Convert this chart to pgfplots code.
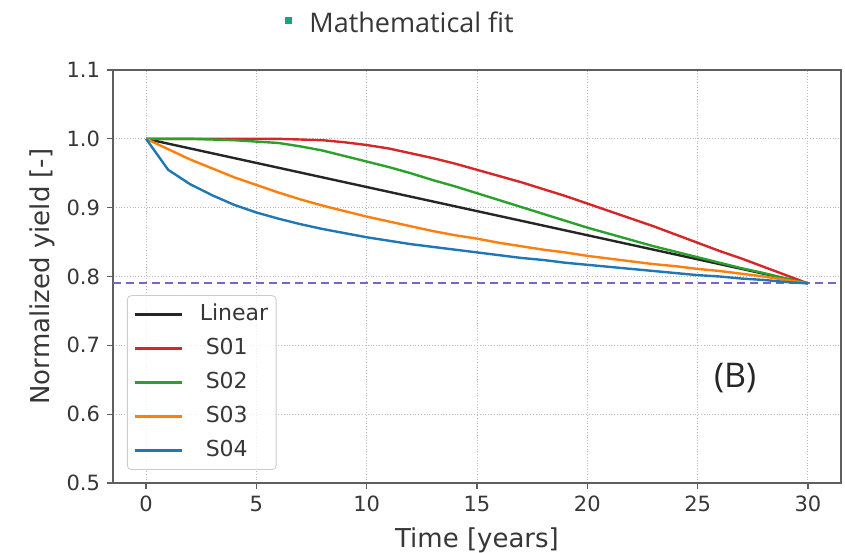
\documentclass[border=0pt]{standalone}
\usepackage{pgfplots}
\pgfplotsset{compat=1.18}
\usepackage{fontspec}
\setmainfont{DejaVu Sans}
\newfontfamily\opensans{Open Sans}

\definecolor{tabred}{RGB}{214,39,40}
\definecolor{tabgreen}{RGB}{44,160,44}
\definecolor{taborange}{RGB}{255,127,14}
\definecolor{tabblue}{RGB}{31,119,180}
\definecolor{limitpurple}{RGB}{125,100,205}
\definecolor{textgray}{RGB}{55,55,55}
\definecolor{framegray}{RGB}{95,95,95}
\definecolor{fitteal}{RGB}{26,160,130}

\begin{document}
\begin{tikzpicture}
  \begin{axis}[
      width=364pt, height=206.5pt, scale only axis,
      xmin=-1.5, xmax=31.5,
      ymin=0.5, ymax=1.1,
      xtick={0,5,10,15,20,25,30},
      ytick={0.5,0.6,0.7,0.8,0.9,1.0,1.1},
      yticklabel style={/pgf/number format/.cd, fixed, fixed zerofill, precision=1},
      /pgf/number format/assume math mode=true,
      xtick pos=left, ytick pos=left,
      tick align=outside,
      major tick length=3pt,
      tick style={draw=framegray, line width=0.6pt},
      axis line style={draw=framegray, line width=0.7pt},
      grid=major,
      major grid style={densely dotted, draw=gray!55, line width=0.5pt},
      ticklabel style={font=\fontsize{10.5}{12}\selectfont, text=textgray},
      xlabel={Time [years]},
      ylabel={Normalized yield [-]},
      every axis x label/.style={at={(rel axis cs:0.5,-0.138)}, anchor=center,
        font=\fontsize{13}{15}\selectfont, text=textgray},
      every axis y label/.style={at={(rel axis cs:-0.0975,0.5)}, anchor=center, rotate=90,
        font=\fontsize{13}{15}\selectfont, text=textgray},
      clip=false,
      legend style={at={(0.0192,0.0315)}, anchor=south west,
        draw=gray!40, rounded corners=2pt, fill=white, fill opacity=0.8, text opacity=1,
        font=\fontsize{11}{13}\selectfont, text=textgray,
        inner xsep=3pt, inner ysep=3.5pt, row sep=5pt,
        nodes={inner sep=1pt, text height=8pt, text depth=2pt}},
      legend cell align=left,
      legend image code/.code={\draw[#1] (0pt,0pt) -- (23.5pt,0pt); \path (0pt,0pt) (31pt,0pt);},
      ]
    \addplot[forget plot, draw=limitpurple, dash pattern=on 4pt off 2.5pt, line width=1pt]
      coordinates {(-1.5,0.79) (31.5,0.79)};

    \addplot[black!85, line width=1.2pt] coordinates {(0,1.0) (30,0.79)};
    \addlegendentry{Linear}

    \addplot[tabred, line width=1.2pt] coordinates {
      (0,1.000)(1,1.000)(2,1.000)(3,1.000)(4,1.000)(5,1.000)(6,1.000)(7,0.999)
      (8,0.998)(9,0.995)(10,0.991)(11,0.986)(12,0.979)(13,0.972)(14,0.964)
      (15,0.955)(16,0.946)(17,0.937)(18,0.927)(19,0.917)(20,0.906)(21,0.895)
      (22,0.884)(23,0.873)(24,0.861)(25,0.849)(26,0.837)(27,0.826)(28,0.814)
      (29,0.802)(30,0.790)};
    \addlegendentry{\hspace{3pt}S01}

    \addplot[tabgreen, line width=1.2pt] coordinates {
      (0,1.000)(1,1.000)(2,1.000)(3,0.999)(4,0.998)(5,0.996)(6,0.994)(7,0.989)
      (8,0.983)(9,0.975)(10,0.967)(11,0.959)(12,0.950)(13,0.940)(14,0.931)
      (15,0.921)(16,0.911)(17,0.901)(18,0.891)(19,0.881)(20,0.871)(21,0.862)
      (22,0.853)(23,0.844)(24,0.836)(25,0.828)(26,0.820)(27,0.812)(28,0.805)
      (29,0.797)(30,0.790)};
    \addlegendentry{\hspace{3pt}S02}

    \addplot[taborange, line width=1.2pt] coordinates {
      (0,1.000)(1,0.985)(2,0.970)(3,0.957)(4,0.944)(5,0.933)(6,0.922)(7,0.912)
      (8,0.903)(9,0.895)(10,0.887)(11,0.880)(12,0.873)(13,0.866)(14,0.860)
      (15,0.855)(16,0.849)(17,0.844)(18,0.839)(19,0.835)(20,0.830)(21,0.826)
      (22,0.822)(23,0.818)(24,0.815)(25,0.811)(26,0.808)(27,0.804)(28,0.800)
      (29,0.795)(30,0.790)};
    \addlegendentry{\hspace{3pt}S03}

    \addplot[tabblue, line width=1.2pt] coordinates {
      (0,1.000)(1,0.955)(2,0.934)(3,0.918)(4,0.904)(5,0.893)(6,0.884)(7,0.876)
      (8,0.869)(9,0.863)(10,0.857)(11,0.852)(12,0.847)(13,0.843)(14,0.839)
      (15,0.835)(16,0.831)(17,0.827)(18,0.824)(19,0.820)(20,0.817)(21,0.814)
      (22,0.811)(23,0.808)(24,0.805)(25,0.802)(26,0.800)(27,0.797)(28,0.795)
      (29,0.792)(30,0.790)};
    \addlegendentry{\hspace{3pt}S04}

    \node[font=\opensans\fontsize{17}{20}\selectfont, text=black!85] at (axis cs:26.7,0.653) {(B)};

    \node[fill=fitteal, minimum size=3.5pt, inner sep=0pt, xshift=87.5pt, yshift=25pt] at (rel axis cs:0,1) {};
    \node[anchor=west, inner sep=0pt, font=\opensans\fontsize{13.5}{16}\selectfont, text=textgray, xshift=98pt, yshift=24pt] at (rel axis cs:0,1) {Mathematical fit};
  \end{axis}
  \pgfresetboundingbox
  \path[use as bounding box] ([shift={(-56.5pt,-34.5pt)}]current axis.south west) rectangle ([shift={(2pt,35pt)}]current axis.north east);
\end{tikzpicture}
\end{document}
